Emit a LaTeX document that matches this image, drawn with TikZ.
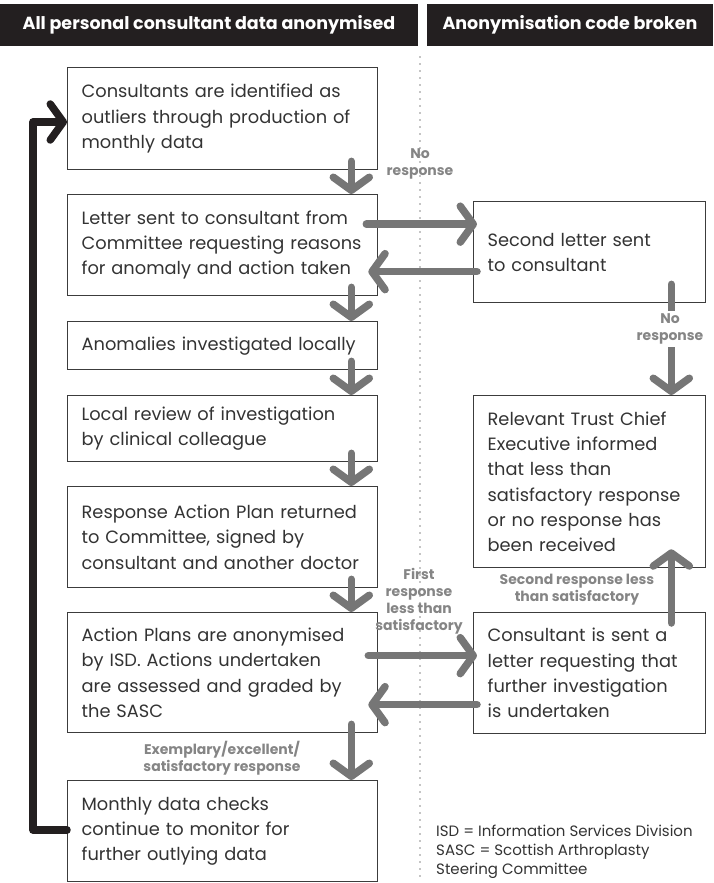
\documentclass[tikz,border=0pt]{standalone}
\usepackage{fontspec}
\setmainfont{Poppins}
\usetikzlibrary{arrows.meta}

\definecolor{barblack}{HTML}{231F20}
\definecolor{boxline}{HTML}{3C3C3C}
\definecolor{textgray}{HTML}{333333}
\definecolor{arrowgray}{HTML}{767676}
\definecolor{taggray}{HTML}{858585}
\definecolor{dotgray}{HTML}{8A8A8A}

\newcommand{\boxfont}{\fontsize{17.8}{25.3}\selectfont}
\newcommand{\tagfont}{\fontsize{14}{17}\selectfont\bfseries}

\tikzset{
  stepbox/.style={draw=boxline, line width=1.3pt, anchor=north west, text=textgray,
    font=\boxfont, align=left, inner xsep=14pt, inner ysep=0pt, text width=282pt},
  sidebox/.style={stepbox, text width=204pt},
  headbar/.style={fill=barblack, text=white, font=\fontsize{17.5}{20}\selectfont\bfseries,
    minimum height=42pt, inner sep=0pt},
  flow/.style={draw=arrowgray, line width=7.5pt, line cap=round,
    -{Straight Barb[length=13pt, width=36pt, round]}},
  loopback/.style={flow, draw=barblack},
  tag/.style={font=\tagfont, text=taggray, align=center, inner sep=1pt},
}

\begin{document}
\begin{tikzpicture}[x=1pt, y=-1pt]
\useasboundingbox (0,0) rectangle (713,883);

% headings
\node[headbar, minimum width=418pt] (hleft) at (209,25) {All personal consultant data anonymised};
\node[headbar, minimum width=286pt] (hright) at (570,25) {Anonymisation code broken};

% divider between the two columns
\coordinate (divtop) at (420,57);
\coordinate (divbot) at (420,883);
\draw[dotgray, line width=1.8pt, line cap=round, dash pattern=on 0pt off 7pt] (divtop) -- (divbot);

% left column
\node[stepbox, minimum height=102pt] (ident) at (67,67) {Consultants are identified as\\outliers through production of\\monthly data};
\node[stepbox, minimum height=101pt] (letter) at (67,194) {Letter sent to consultant from\\Committee requesting reasons\\for anomaly and action taken};
\node[stepbox, minimum height=48pt] (local) at (67,321) {Anomalies investigated locally};
\node[stepbox, minimum height=66pt] (review) at (67,395) {Local review of investigation\\by clinical colleague};
\node[stepbox, minimum height=101pt] (plan) at (67,486) {Response Action Plan returned\\to Committee, signed by\\consultant and another doctor};
\node[stepbox, minimum height=120pt] (graded) at (67,612) {Action Plans are anonymised\\by ISD. Actions undertaken\\are assessed and graded by\\the SASC};
\node[stepbox, minimum height=101pt] (monthly) at (67,780) {Monthly data checks\\continue to monitor for\\further outlying data};

% right column
\node[sidebox, minimum height=101pt] (second) at (473,201) {Second letter sent\\to consultant};
\node[sidebox, minimum height=172pt] (chief) at (473,395) {Relevant Trust Chief\\Executive informed\\that less than\\satisfactory response\\or no response has\\been received};
\node[sidebox, minimum height=121pt] (further) at (473,612) {Consultant is sent a\\letter requesting that\\further investigation\\is undertaken};

% main flow
\foreach \a/\b in {ident/letter, letter/local, local/review, review/plan, plan/graded, graded/monthly}
  \draw[flow] ([xshift=-27pt, yshift=9pt]\a.south east) -- ([xshift=-27pt]\b.north east);

% no response loop
\coordinate (nrout) at ([xshift=-12pt, yshift=21pt]letter.east);
\coordinate (nrback) at ([xshift=4pt, yshift=-19.5pt]second.west);
\draw[flow] (nrout) -- ([xshift=4pt]nrout -| second.west);
\draw[flow] (nrback) -- ([xshift=-10pt]nrback -| letter.east);
\draw[flow] ([xshift=-35pt, yshift=19pt]second.south east) -- ([xshift=-35pt]chief.north east);

% first response loop
\coordinate (frout) at ([xshift=-10pt, yshift=17pt]graded.east);
\coordinate (frback) at ([xshift=4pt, yshift=-31.5pt]further.west);
\draw[flow] (frout) -- ([xshift=4pt]frout -| further.west);
\draw[flow] (frback) -- ([xshift=-10pt]frback -| graded.east);
\draw[flow] ([xshift=-35pt, yshift=-11pt]further.north east) -- ([xshift=-35pt, yshift=19pt]chief.south east);

% back to the start
\coordinate (turnlow) at (33,830);
\coordinate (turnhigh) at (33,122);
\draw[loopback, line cap=round, line join=round] (monthly.west |- turnlow) -- (turnlow) -- (turnhigh) -- (turnhigh -| ident.west);

% labels on the arrows
\node[tag] (tagnr) at (420,164) {No\\response};
\node[tag, fill=white, inner ysep=3pt] (tagnr2) at (670,329) {No\\response};
\node[tag] (tagfirst) at (419,601) {First\\response\\less than\\satisfactory};
\node[tag] (tagsecond) at (577,590) {Second response less\\than satisfactory};
\node[tag] (tagok) at (222,758) {Exemplary/excellent/\\satisfactory response};

% key
\node[anchor=north west, align=left, text=textgray, font=\fontsize{15}{19}\selectfont, inner sep=0pt] (key) at (436,825) {ISD = Information Services Division\\SASC = Scottish Arthroplasty\\Steering Committee};
\end{tikzpicture}
\end{document}
